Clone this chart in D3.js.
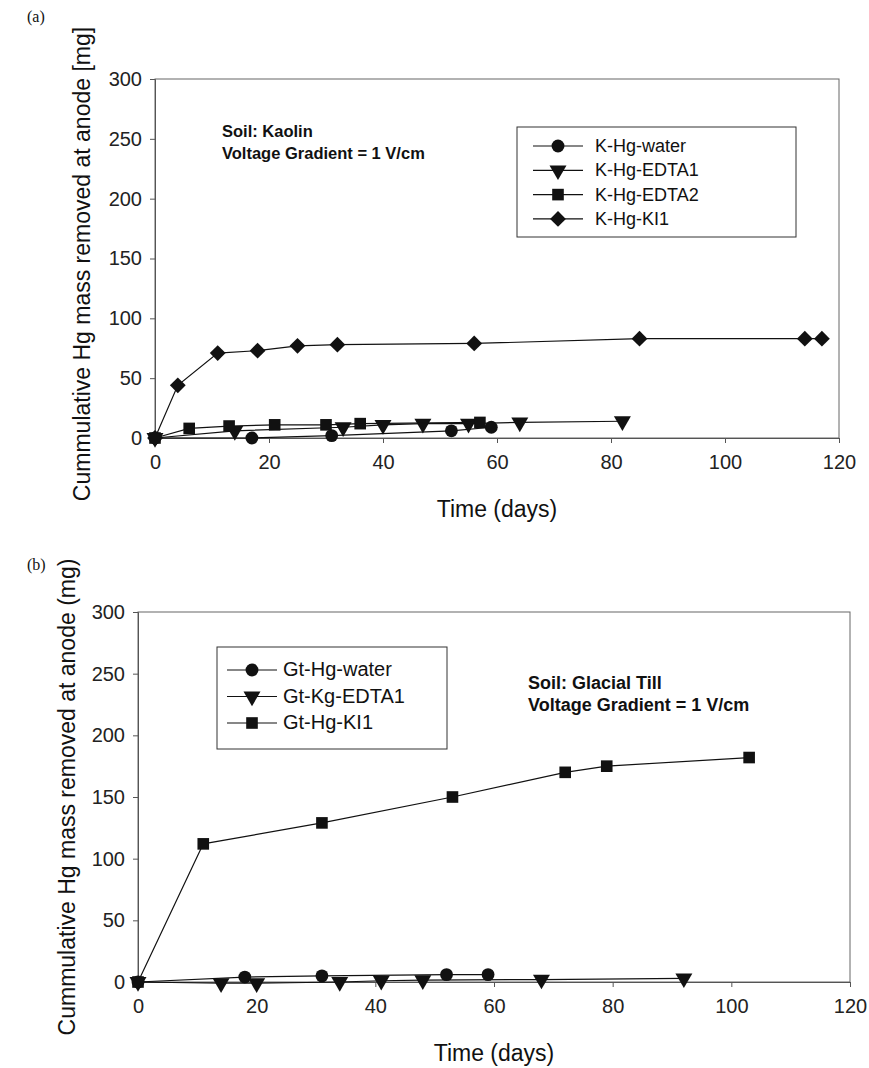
<!DOCTYPE html>
<html>
<head>
<meta charset="utf-8">
<script src="https://cdn.jsdelivr.net/npm/d3@7"></script>
<style>
  body { margin: 0; background: #fff; }
  text { font-family: "Liberation Sans", Arial, sans-serif; fill: #111; }
  .axis path, .axis line { stroke: #555; }
  .axis text { font-size: 20px; fill: #222; font-family: "Liberation Sans", Arial, sans-serif; }
</style>
</head>
<body>
<svg id="chart" width="869" height="1068"></svg>
<script>
// panel (a) - Kaolin
var aWaterDays = [0, 17, 31, 52, 59];
var aWaterMass = [0, 0, 2, 6, 9];
var aEdta1Days = [0, 14, 33, 40, 47, 55, 64, 82];
var aEdta1Mass = [0, 6, 9, 11, 12, 12, 13, 14];
var aEdta2Days = [0, 6, 13, 21, 30, 36, 57];
var aEdta2Mass = [0, 8, 10, 11, 11, 12, 13];
var aKiDays = [0, 4, 11, 18, 25, 32, 56, 85, 114, 117];
var aKiMass = [0, 44, 71, 73, 77, 78, 79, 83, 83, 83];

// panel (b) - Glacial Till
var bWaterDays = [0, 18, 31, 52, 59];
var bWaterMass = [0, 4, 5, 6, 6];
var bEdta1Days = [0, 14, 20, 34, 41, 48, 68, 92];
var bEdta1Mass = [0, -1, -1, 0, 1, 1.5, 2, 3];
var bKiDays = [0, 11, 31, 53, 72, 79, 103];
var bKiMass = [0, 112, 129, 150, 170, 175, 182];

var xTicks = [0, 20, 40, 60, 80, 100, 120];
var yTicks = [0, 50, 100, 150, 200, 250, 300];

function zip(days, mass) {
  return days.map(function(d, i) { return {x: d, y: mass[i]}; });
}

var svg = d3.select("#chart");

function symbolFor(kind) {
  if (kind === "circle") return {type: d3.symbolCircle, size: 130, rot: 0};
  if (kind === "square") return {type: d3.symbolSquare, size: 135, rot: 0};
  if (kind === "triangle") return {type: d3.symbolTriangle, size: 125, rot: 180};
  return {type: d3.symbolSquare, size: 125, rot: 45};
}

function drawPanel(p) {
  var x = d3.scaleLinear().domain([0, 120]).range([p.left, p.right]);
  var y = d3.scaleLinear().domain([0, 300]).range([p.bottom, p.top]);
  var g = svg.append("g");

  // plot area frame
  g.append("rect")
    .attr("x", p.left).attr("y", p.top)
    .attr("width", p.right - p.left).attr("height", p.bottom - p.top)
    .attr("fill", "none").attr("stroke", "#666").attr("stroke-width", 1);

  g.append("g").attr("class", "axis")
    .attr("transform", "translate(0," + p.bottom + ")")
    .call(d3.axisBottom(x).tickValues(xTicks).tickSize(5).tickPadding(12));

  g.append("g").attr("class", "axis")
    .attr("transform", "translate(" + p.left + ",0)")
    .call(d3.axisLeft(y).tickValues(yTicks).tickSize(5).tickPadding(8));

  g.append("text")
    .attr("x", (p.left + p.right) / 2).attr("y", p.bottom + 79)
    .attr("text-anchor", "middle").style("font-size", "23px")
    .text("Time (days)");

  g.append("text")
    .attr("transform", "translate(" + p.yTitleX + "," + p.yTitleY + ") rotate(-90)")
    .attr("text-anchor", "middle").style("font-size", "23px")
    .text(p.yTitle);

  g.append("text")
    .attr("x", 27).attr("y", p.tagY)
    .style("font-family", "'Liberation Serif', serif").style("font-size", "16px")
    .text(p.tag);

  var line = d3.line()
    .x(function(d) { return x(d.x); })
    .y(function(d) { return y(d.y); });

  p.series.forEach(function(s) {
    var pts = zip(s.days, s.mass);
    g.append("path").attr("d", line(pts))
      .attr("fill", "none").attr("stroke", "#111").attr("stroke-width", 1.2);
    var sym = symbolFor(s.marker);
    g.selectAll(null).data(pts).enter().append("path")
      .attr("d", d3.symbol().type(sym.type).size(sym.size))
      .attr("transform", function(d) {
        return "translate(" + x(d.x) + "," + y(d.y) + ") rotate(" + sym.rot + ")";
      })
      .attr("fill", "#111");
  });

  // note
  p.note.forEach(function(t, i) {
    g.append("text")
      .attr("x", p.noteX).attr("y", p.noteY + i * 22)
      .style("font-size", p.noteFont).style("font-weight", "bold")
      .text(t);
  });

  // legend
  var lg = p.legend;
  g.append("rect")
    .attr("x", lg.x).attr("y", lg.y).attr("width", lg.w).attr("height", lg.h)
    .attr("fill", "#fff").attr("stroke", "#333");
  p.series.forEach(function(s, i) {
    var cy = lg.y + lg.first + i * lg.step;
    g.append("line")
      .attr("x1", lg.x + lg.mark - 25).attr("x2", lg.x + lg.mark + 25)
      .attr("y1", cy).attr("y2", cy)
      .attr("stroke", "#111").attr("stroke-width", 1.2);
    var sym = symbolFor(s.marker);
    g.append("path")
      .attr("d", d3.symbol().type(sym.type).size(sym.size))
      .attr("transform", "translate(" + (lg.x + lg.mark) + "," + cy + ") rotate(" + sym.rot + ")")
      .attr("fill", "#111");
    g.append("text")
      .attr("x", lg.x + lg.text).attr("y", cy + 6)
      .style("font-size", lg.font)
      .text(s.name);
  });
}

drawPanel({
  tag: "(a)", tagY: 22,
  left: 155, right: 839, top: 79, bottom: 438,
  yTitle: "Cummulative Hg mass removed at anode [mg]", yTitleX: 90, yTitleY: 264,
  note: ["Soil: Kaolin", "Voltage Gradient = 1 V/cm"], noteX: 222, noteY: 137, noteFont: "16.5px",
  legend: {x: 517, y: 127, w: 279, h: 110, first: 19, step: 24.3, mark: 41, text: 78, font: "18px"},
  series: [
    {name: "K-Hg-water", marker: "circle", days: aWaterDays, mass: aWaterMass},
    {name: "K-Hg-EDTA1", marker: "triangle", days: aEdta1Days, mass: aEdta1Mass},
    {name: "K-Hg-EDTA2", marker: "square", days: aEdta2Days, mass: aEdta2Mass},
    {name: "K-Hg-KI1", marker: "diamond", days: aKiDays, mass: aKiMass}
  ]
});

drawPanel({
  tag: "(b)", tagY: 570,
  left: 138, right: 850, top: 612, bottom: 982,
  yTitle: "Cummulative Hg mass removed at anode (mg)", yTitleX: 75, yTitleY: 797,
  note: ["Soil: Glacial Till", "Voltage Gradient = 1 V/cm"], noteX: 528, noteY: 689, noteFont: "18px",
  legend: {x: 217, y: 647, w: 230, h: 102, first: 23, step: 26.5, mark: 35, text: 66, font: "20px"},
  series: [
    {name: "Gt-Hg-water", marker: "circle", days: bWaterDays, mass: bWaterMass},
    {name: "Gt-Kg-EDTA1", marker: "triangle", days: bEdta1Days, mass: bEdta1Mass},
    {name: "Gt-Hg-KI1", marker: "square", days: bKiDays, mass: bKiMass}
  ]
});
</script>
</body>
</html>
